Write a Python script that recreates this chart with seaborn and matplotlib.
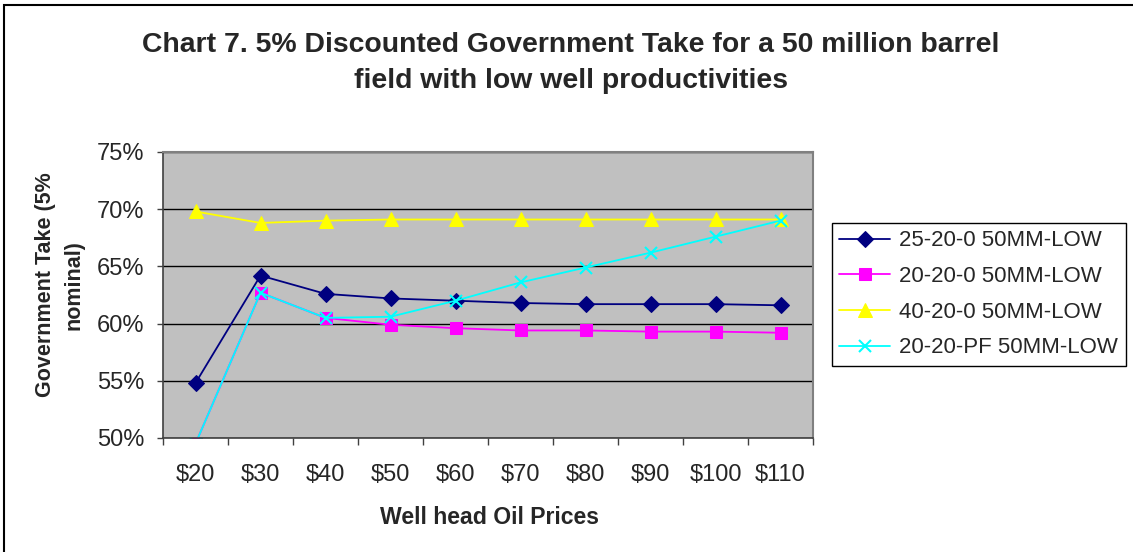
import matplotlib
matplotlib.use("Agg")
import matplotlib.pyplot as plt
import seaborn as sns
from matplotlib.patches import Rectangle
from matplotlib.ticker import FixedLocator, FuncFormatter

# Data (government take, % nominal)
prices = ["$20", "$30", "$40", "$50", "$60", "$70", "$80", "$90", "$100", "$110"]
take_25_20_0 = [54.8, 64.2, 62.6, 62.2, 62.0, 61.8, 61.7, 61.7, 61.7, 61.6]
take_20_20_0 = [49.5, 62.7, 60.5, 59.9, 59.6, 59.4, 59.4, 59.3, 59.3, 59.2]
take_40_20_0 = [69.8, 68.8, 69.0, 69.1, 69.1, 69.1, 69.1, 69.1, 69.1, 69.1]
take_20_20_pf = [49.5, 62.7, 60.5, 60.6, 62.0, 63.6, 64.9, 66.2, 67.6, 69.0]
series_names = ["25-20-0 50MM-LOW", "20-20-0 50MM-LOW",
                "40-20-0 50MM-LOW", "20-20-PF 50MM-LOW"]

sns.set_style("white")
plt.rcParams['font.family'] = ['Liberation Sans', 'DejaVu Sans']

fig = plt.figure(figsize=(11.33, 5.52), dpi=100)
ax = fig.add_axes([163 / 1133, 1 - 438 / 552, 650 / 1133, 286 / 552])
ax.set_facecolor("#C0C0C0")

pos = list(range(len(prices)))
styles = [
    (take_25_20_0, "#000080", "D", 8, dict()),
    (take_20_20_0, "#FF00FF", "s", 8, dict()),
    (take_40_20_0, "#FFFF00", "^", 10, dict()),
    (take_20_20_pf, "#00FFFF", "x", 9, dict(markeredgewidth=1.5)),
]
for (vals, col, mk, ms, extra), name in zip(styles, series_names):
    sns.lineplot(x=pos, y=vals, ax=ax, color=col, marker=mk, markersize=ms,
                 markeredgecolor=col, linewidth=1.3, label=name, **extra)

ax.set_xlim(-0.5, len(prices) - 0.5)
ax.set_ylim(50, 75)

# y axis
ax.yaxis.set_major_locator(FixedLocator([50, 55, 60, 65, 70, 75]))
ax.yaxis.set_major_formatter(FuncFormatter(lambda v, p: f"{v:.0f}%"))
ax.yaxis.grid(True, color="black", linewidth=1)
ax.xaxis.grid(False)
ax.tick_params(axis="y", which="major", direction="out", length=4.5, width=1,
               color="#404040", labelsize=17, pad=9, left=True)

# x axis: labels centred on categories, tick marks between them
ax.set_xticks(pos)
ax.set_xticklabels(prices)
ax.set_xticks([p - 0.5 for p in pos] + [len(prices) - 0.5], minor=True)
ax.tick_params(axis="x", which="major", length=0, labelsize=17, pad=19)
ax.tick_params(axis="x", which="minor", direction="out", length=5, width=1,
               color="#404040", bottom=True)

for s in ["left", "bottom"]:
    ax.spines[s].set_color("#404040")
    ax.spines[s].set_linewidth(1.2)
for s in ["top", "right"]:
    ax.spines[s].set_color("#808080")
    ax.spines[s].set_linewidth(1.5)

ax.set_xlabel("")
ax.set_ylabel("")

# Legend
leg = ax.legend(loc="upper left", bbox_to_anchor=(832 / 1133, 1 - 223 / 552),
                bbox_transform=fig.transFigure, fontsize=16, frameon=True,
                fancybox=False, framealpha=1, edgecolor="black",
                handlelength=2.3, labelspacing=0.66, borderpad=0.33,
                handletextpad=0.4, borderaxespad=0)
leg.get_frame().set_linewidth(1)

# Titles and labels
fig.text(571 / 1133, 1 - 63 / 552,
         "Chart 7. 5% Discounted Government Take for a 50 million barrel\n"
         "field with low well productivities",
         ha="center", va="center", fontsize=20.4, fontweight="bold",
         linespacing=1.45)
fig.text(60 / 1133, 1 - 285 / 552, "Government Take (5%\nnominal)",
         rotation=90, ha="center", va="center", multialignment="center",
         fontsize=15.5, fontweight="bold", linespacing=1.5)
fig.text(490 / 1133, 1 - 518 / 552, "Well head Oil Prices",
         ha="center", va="center", fontsize=16.6, fontweight="bold")

# Chart border (cut off at right and bottom)
fig.patches.append(Rectangle((3.5 / 1133, -0.5), 2, 0.5 + 1 - 4.5 / 552,
                             transform=fig.transFigure, fill=False,
                             edgecolor="black", linewidth=1.5))

fig.savefig("out.png", dpi=100)
